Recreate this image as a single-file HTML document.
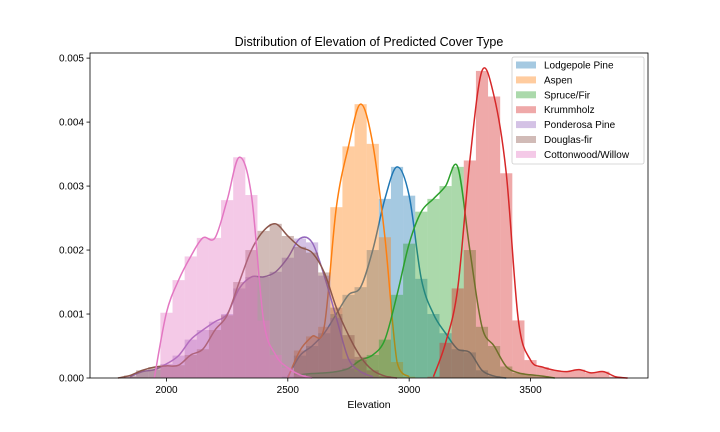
<!DOCTYPE html>
<html><head><meta charset="utf-8">
<style>
html,body{margin:0;padding:0;background:#fff;}
svg{display:block;font-family:"Liberation Sans","DejaVu Sans",sans-serif;}
</style></head>
<body>
<svg id="chart" width="720" height="432" viewBox="0 0 720 432">
  <rect x="0" y="0" width="720" height="432" fill="#fff"/>
  <g id="plot"></g>
  <rect x="90" y="53" width="558" height="325" fill="none" stroke="#000" stroke-width="0.8"/>
  <g id="axes"></g>
  <text x="369" y="46" text-anchor="middle" font-size="12.5">Distribution of Elevation of Predicted Cover Type</text>
  <text x="369" y="408" text-anchor="middle" font-size="10.5">Elevation</text>
  <g id="legend"></g>
</svg>
<script>
// ---- data (density at elevation grid, step 50) ----
const gridStep = 50;
const seriesNames = ["Lodgepole Pine","Aspen","Spruce/Fir","Krummholz","Ponderosa Pine","Douglas-fir","Cottonwood/Willow"];
const seriesColors = ["#1f77b4","#ff7f0e","#2ca02c","#d62728","#9467bd","#8c564b","#e377c2"];
const seriesStarts = [2500, 2500, 2550, 3100, 1850, 1800, 1950];
const lodgepoleVals = [0.00002,0.00035,0.0005,0.0007,0.001,0.0013,0.00142,0.002,0.0028,0.0033,0.00285,0.00155,0.001,0.0007,0.00045,0.0004,0.00012,0.00003,0];
const aspenVals = [0,0.00043,0.00065,0.0008,0.00267,0.00362,0.00428,0.00366,0.0022,0.00025,0.00002];
const spruceVals = [0.00005,0.00007,0.00008,0.0001,0.00015,0.00028,0.00036,0.0006,0.0013,0.0021,0.0026,0.0028,0.003,0.0033,0.002,0.0008,0.0005,0.00018,0.00008,0.00005,0.00003,0];
const krummholzVals = [0.00002,0.00055,0.0014,0.0034,0.0048,0.0044,0.0032,0.0009,0.00028,0.00017,0.00012,0.0001,0.00013,0.00008,0.0001,0.00002,0];
const ponderosaVals = [0.00002,0.0001,0.00013,0.00022,0.00035,0.0006,0.00075,0.00088,0.001,0.0014,0.00158,0.00158,0.00166,0.00188,0.00218,0.00212,0.0016,0.00094,0.0003,0.0001,0.00002];
const douglasVals = [0,0.00004,0.00012,0.00017,0.00019,0.0002,0.00036,0.00045,0.00075,0.00098,0.0015,0.002,0.0023,0.00241,0.00222,0.00205,0.00196,0.00165,0.0011,0.00067,0.00033,0.00012,0.00003,0];
const cottonwoodVals = [0,0.00102,0.00153,0.0019,0.00219,0.00219,0.00278,0.00345,0.00286,0.0009,0.00036,0.00016,0.00005,0];
const seriesValues = [lodgepoleVals, aspenVals, spruceVals, krummholzVals, ponderosaVals, douglasVals, cottonwoodVals];
const xTicks = [2000, 2500, 3000, 3500];
const yTicks = [0, 0.001, 0.002, 0.003, 0.004, 0.005];
const yTickLabels = ["0.000","0.001","0.002","0.003","0.004","0.005"];

// ---- axis functions ----
const X0 = 90, X1 = 648, Y0 = 378, Y1 = 53;
const xMin = 1685, xMax = 3984, yMax = 0.00508;
function xs(v){ return X0 + (v - xMin) / (xMax - xMin) * (X1 - X0); }
function ys(v){ return Y0 - v / yMax * (Y0 - Y1); }

const NS = "http://www.w3.org/2000/svg";
const plot = document.getElementById("plot");
const axes = document.getElementById("axes");
const legend = document.getElementById("legend");

function smoothPath(pts){
  let d = "M" + pts[0][0].toFixed(2) + "," + pts[0][1].toFixed(2);
  for (let i = 0; i < pts.length - 1; i++){
    const p0 = pts[Math.max(i-1,0)], p1 = pts[i], p2 = pts[i+1], p3 = pts[Math.min(i+2, pts.length-1)];
    let c1x = p1[0] + (p2[0]-p0[0])/6, c1y = p1[1] + (p2[1]-p0[1])/6;
    let c2x = p2[0] - (p3[0]-p1[0])/6, c2y = p2[1] - (p3[1]-p1[1])/6;
    c1y = Math.min(c1y, Y0); c2y = Math.min(c2y, Y0);
    d += " C" + c1x.toFixed(2) + "," + c1y.toFixed(2) + " " + c2x.toFixed(2) + "," + c2y.toFixed(2) + " " + p2[0].toFixed(2) + "," + p2[1].toFixed(2);
  }
  return d;
}

seriesNames.forEach((name, si) => {
  const vals = seriesValues[si], start = seriesStarts[si], col = seriesColors[si];
  const key = name.toLowerCase().replace(/[^a-z]+/g, "-");
  const g = document.createElementNS(NS, "g");
  
  
  vals.forEach((v, i) => {
    if (v <= 0) return;
    const c = start + i * gridStep;
    const r = document.createElementNS(NS, "rect");
    const xa = xs(c - gridStep/2), xb = xs(c + gridStep/2);
    r.setAttribute("x", xa); r.setAttribute("width", xb - xa);
    r.setAttribute("y", ys(v)); r.setAttribute("height", Y0 - ys(v));
    r.setAttribute("fill", col); r.setAttribute("fill-opacity", "0.4");
    
    
    g.appendChild(r);
  });
  const pts = vals.map((v, i) => [xs(start + i * gridStep), ys(v)]);
  const p = document.createElementNS(NS, "path");
  p.setAttribute("d", smoothPath(pts));
  p.setAttribute("fill", "none"); p.setAttribute("stroke", col); p.setAttribute("stroke-width", "1.5");
  
  
  g.appendChild(p);
  plot.appendChild(g);
});

xTicks.forEach(t => {
  const l = document.createElementNS(NS, "line");
  l.setAttribute("x1", xs(t)); l.setAttribute("x2", xs(t));
  l.setAttribute("y1", Y0); l.setAttribute("y2", Y0 + 3.5);
  l.setAttribute("stroke", "#000"); l.setAttribute("stroke-width", "0.8");
  
  
  axes.appendChild(l);
  const tx = document.createElementNS(NS, "text");
  tx.setAttribute("x", xs(t)); tx.setAttribute("y", Y0 + 15);
  tx.setAttribute("text-anchor", "middle"); tx.setAttribute("font-size", "10");
  tx.textContent = t;
  
  
  axes.appendChild(tx);
});
yTicks.forEach((t, i) => {
  const l = document.createElementNS(NS, "line");
  l.setAttribute("x1", X0 - 3.5); l.setAttribute("x2", X0);
  l.setAttribute("y1", ys(t)); l.setAttribute("y2", ys(t));
  l.setAttribute("stroke", "#000"); l.setAttribute("stroke-width", "0.8");
  
  
  axes.appendChild(l);
  const tx = document.createElementNS(NS, "text");
  tx.setAttribute("x", X0 - 6); tx.setAttribute("y", ys(t) + 3.5);
  tx.setAttribute("text-anchor", "end"); tx.setAttribute("font-size", "10");
  tx.textContent = yTickLabels[i];
  
  
  axes.appendChild(tx);
});

// legend
const box = document.createElementNS(NS, "rect");
box.setAttribute("x", 512); box.setAttribute("y", 57); box.setAttribute("width", 132); box.setAttribute("height", 107);
box.setAttribute("rx", 2); box.setAttribute("fill", "#fff"); box.setAttribute("fill-opacity", "0.8");
box.setAttribute("stroke", "#ccc"); box.setAttribute("stroke-width", "0.8");


legend.appendChild(box);
seriesNames.forEach((name, i) => {
  const y = 65 + i * 14.9;
  const g = document.createElementNS(NS, "g");
  
  
  const sw = document.createElementNS(NS, "rect");
  sw.setAttribute("x", 516); sw.setAttribute("y", y - 3.5); sw.setAttribute("width", 20); sw.setAttribute("height", 7);
  sw.setAttribute("fill", seriesColors[i]); sw.setAttribute("fill-opacity", "0.4");
  
  
  g.appendChild(sw);
  const tx = document.createElementNS(NS, "text");
  tx.setAttribute("x", 544); tx.setAttribute("y", y + 3.5); tx.setAttribute("font-size", "10");
  tx.textContent = name;
  
  
  g.appendChild(tx);
  legend.appendChild(g);
});
</script>
</body></html>
